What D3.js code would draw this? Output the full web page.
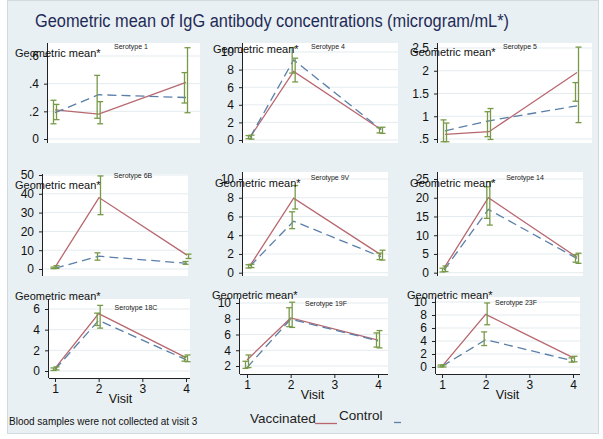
<!DOCTYPE html>
<html><head><meta charset="utf-8">
<script src="https://cdn.jsdelivr.net/npm/d3@7"></script>
<style>html,body{margin:0;padding:0;background:#fff;}svg{display:block;font-family:"Liberation Sans",Arial,sans-serif;}</style>
</head><body><svg id="c" width="603" height="439"></svg>
<script>
// ---------------- DATA ----------------
const serotypes = ["1","4","5","6B","9V","14","18C","19F","23F"];
const visits = [1, 2, 4];
const vaccinated = [[0.21,0.18,0.41],[0.3,7.8,1.2],[0.6,0.66,1.96],[0.9,38,7.4],[0.75,7.95,1.9],[1.2,20,4.1],[0.25,5.55,1.3],[2.77,8.1,5.3],[0.1,8.1,1.45]];
const control    = [[0.19,0.32,0.30],[0.3,9.1,1.2],[0.68,0.9,1.23],[0.4,6.8,3.0],[0.7,5.5,1.7],[0.7,16.9,3.8],[0.15,4.9,1.1],[1.8,7.95,5.2],[0.1,4.2,0.95]];
const vaccLow  = [[0.14,0.11,0.19],[0.1,6.6,0.75],[0.44,0.49,0.86],[0.3,28.9,5.6],[0.55,6.8,1.35],[0.3,12.7,2.5],[0.1,4.15,0.9],[1.8,6.9,4.3],[0.0,6.5,0.8]];
const vaccHigh = [[0.25,0.27,0.66],[0.55,9.3,1.45],[0.85,1.17,2.52],[1.8,49.5,7.9],[0.9,9.3,2.4],[1.8,24.3,5.2],[0.4,6.35,1.55],[3.4,10.1,6.5],[0.35,9.85,1.65]];
const ctrlLow  = [[0.11,0.15,0.26],[0.15,7.6,0.8],[0.44,0.55,1.33],[0.2,4.7,2.5],[0.5,4.7,1.4],[0.2,14.5,2.8],[0.05,4.4,0.95],[1.7,7.0,4.4],[0.0,3.3,0.75]];
const ctrlHigh = [[0.28,0.46,0.48],[0.5,10.5,1.4],[0.92,1.1,1.74],[1.0,8.6,4.0],[0.85,6.5,2.1],[1.2,22.9,4.8],[0.3,5.6,1.4],[2.6,9.4,6.2],[0.3,5.4,1.4]];
const yTicks = [[0,0.2,0.4,0.6],[0,2,4,6,8,10],[0.5,1,1.5,2,2.5],[0,10,20,30,40,50],[0,2,4,6,8,10],[0,5,10,15,20,25],[0,2,4,6],[2,4,6,8,10],[0,2,4,6,8,10]];
const yTickLabels = [["0",".2",".4",".6"],["0","2","4","6","8","10"],[".5","1","1.5","2","2.5"],["0","10","20","30","40","50"],["0","2","4","6","8","10"],["0","5","10","15","20","25"],["0","2","4","6"],["2","4","6","8","10"],["0","2","4","6","8","10"]];
const xTicks = [1, 2, 3, 4];
const titleText = "Geometric mean of IgG antibody concentrations (microgram/mL*)";
const yTitle = "Geometric mean*";
const xTitle = "Visit";
const footnote = "Blood samples were not collected at visit 3";
const legendLabels = ["Vaccinated", "Control"];

// ---------------- LAYOUT ----------------
const layout = [
  {ax:48, right:200, top:43, bottom:143, dom:[0,0.6], rng:[139,56], x1:55, x4:186, sx:131, sy:49, gx:15, gy:57},
  {ax:243,right:398, top:43, bottom:143, dom:[0,10],  rng:[140,52], x1:250,x4:381, sx:328, sy:49, gx:213,gy:53},
  {ax:438,right:592, top:43, bottom:143, dom:[0.5,2.5],rng:[139,48],x1:445,x4:577, sx:520, sy:49, gx:410,gy:56},
  {ax:43, right:188, top:174,bottom:276, dom:[0,50],  rng:[269,175],x1:55, x4:187, sx:133, sy:178,gx:15, gy:189},
  {ax:243,right:388, top:172,bottom:276, dom:[0,10],  rng:[272.7,179],x1:250,x4:381,sx:330, sy:180,gx:215,gy:187},
  {ax:438,right:583, top:172,bottom:276, dom:[0,25],  rng:[272.7,179],x1:444,x4:577,sx:525, sy:180,gx:410,gy:187},
  {ax:49, right:190, top:299,bottom:378, dom:[0,6],   rng:[371,309],x1:55, x4:186, sx:136, sy:310,gx:15, gy:300, xaxis:true},
  {ax:240,right:388, top:298,bottom:374, dom:[2,10],  rng:[366,303],x1:247,x4:378, sx:326, sy:306,gx:212,gy:299, xaxis:true},
  {ax:436,right:580, top:297,bottom:374, dom:[0,10],  rng:[367,302],x1:442,x4:573, sx:516, sy:305,gx:407,gy:299, xaxis:true}
];
const VACC = "#b8676f", CTRL = "#5a7fa8", ERR = "#789a48";

const svg = d3.select("#c");
svg.append("rect").attr("x",7.5).attr("y",0.5).attr("width",591).attr("height",433)
  .attr("fill","#e9f0f3").attr("stroke","#d3dadd");

svg.append("text").attr("x",272).attr("y",27).attr("text-anchor","middle")
  .attr("font-size",18).attr("fill","#1f2b57").attr("textLength",474).attr("lengthAdjust","spacingAndGlyphs")
  .text(titleText);

serotypes.forEach((s, i) => {
  const L = layout[i];
  const g = svg.append("g");
  const x = d3.scaleLinear().domain([1,4]).range([L.x1, L.x4]);
  const y = d3.scaleLinear().domain(L.dom).range(L.rng);

  g.append("rect").attr("x",L.ax).attr("y",L.top).attr("width",L.right-L.ax).attr("height",L.bottom-L.top).attr("fill","#fff");
  // grid
  g.selectAll(".grid").data(yTicks[i]).join("line")
    .attr("x1",L.ax).attr("x2",L.right).attr("y1",d=>y(d)).attr("y2",d=>y(d))
    .attr("stroke","#e4ebee").attr("stroke-width",1);

  // y axis
  const yAxis = d3.axisLeft(y).tickValues(yTicks[i]).tickFormat((d,k)=>yTickLabels[i][k]).tickSize(4).tickPadding(5);
  const ya = g.append("g").attr("transform",`translate(${L.ax},0)`).call(yAxis);
  ya.select(".domain").attr("d",`M-0.5,${L.top}V${L.bottom}`).attr("stroke","#222");
  ya.selectAll("line").attr("stroke","#222");
  ya.selectAll("text").attr("font-size",12).attr("fill","#111").attr("font-family","Liberation Sans, Arial, sans-serif");

  if (L.xaxis) {
    const xAxis = d3.axisBottom(x).tickValues(xTicks).tickFormat(d3.format("d")).tickSize(4).tickPadding(2);
    const xa = g.append("g").attr("transform",`translate(0,${L.bottom})`).call(xAxis);
    xa.select(".domain").attr("d",`M${L.ax},0.5H${L.right}`).attr("stroke","#222");
    xa.selectAll("line").attr("stroke","#222");
    xa.selectAll("text").attr("font-size",12).attr("fill","#111").attr("font-family","Liberation Sans, Arial, sans-serif");
    g.append("text").attr("x",(L.x1+L.x4)/2).attr("y",L.bottom+25).attr("text-anchor","middle")
      .attr("font-size",12.5).attr("fill","#111").text(xTitle);
  }

  const line = d3.line().x((d,k)=>x(visits[k])).y(d=>y(d));
  g.append("path").datum(vaccinated[i]).attr("d",line).attr("fill","none").attr("stroke",VACC).attr("stroke-width",1.3);
  g.append("path").datum(control[i]).attr("d",line).attr("fill","none").attr("stroke",CTRL).attr("stroke-width",1.3).attr("stroke-dasharray","9,5");

  const bars = [];
  visits.forEach((v,k)=>{
    bars.push({v, lo:ctrlLow[i][k], hi:ctrlHigh[i][k], off:-1.5});
    bars.push({v, lo:vaccLow[i][k], hi:vaccHigh[i][k], off:1.5});
  });
  const eb = g.selectAll(".eb").data(bars).join("g").attr("stroke",ERR).attr("stroke-width",1.3);
  eb.append("line").attr("x1",d=>x(d.v)+d.off).attr("x2",d=>x(d.v)+d.off).attr("y1",d=>y(d.lo)).attr("y2",d=>y(d.hi));
  eb.append("line").attr("x1",d=>x(d.v)+d.off-3).attr("x2",d=>x(d.v)+d.off+3).attr("y1",d=>y(d.lo)).attr("y2",d=>y(d.lo));
  eb.append("line").attr("x1",d=>x(d.v)+d.off-3).attr("x2",d=>x(d.v)+d.off+3).attr("y1",d=>y(d.hi)).attr("y2",d=>y(d.hi));

  g.append("text").attr("x",L.sx).attr("y",L.sy).attr("text-anchor","middle").attr("font-size",7).attr("fill","#222")
    .text("Serotype " + s);
  g.append("text").attr("x",L.gx).attr("y",L.gy).attr("font-size",11).attr("fill","#111").text(yTitle);
});

svg.append("text").attr("x",9).attr("y",425).attr("font-size",10).attr("fill","#111").text(footnote);
svg.append("text").attr("x",250).attr("y",423).attr("font-size",13.5).attr("fill","#222").text(legendLabels[0]);
svg.append("line").attr("x1",315).attr("x2",337).attr("y1",423.5).attr("y2",423.5).attr("stroke",VACC).attr("stroke-width",1.3);
svg.append("text").attr("x",339).attr("y",420).attr("font-size",13.5).attr("fill","#222").text(legendLabels[1]);
svg.append("line").attr("x1",394).attr("x2",401).attr("y1",422.5).attr("y2",422.5).attr("stroke",CTRL).attr("stroke-width",1.3);
</script></body></html>
